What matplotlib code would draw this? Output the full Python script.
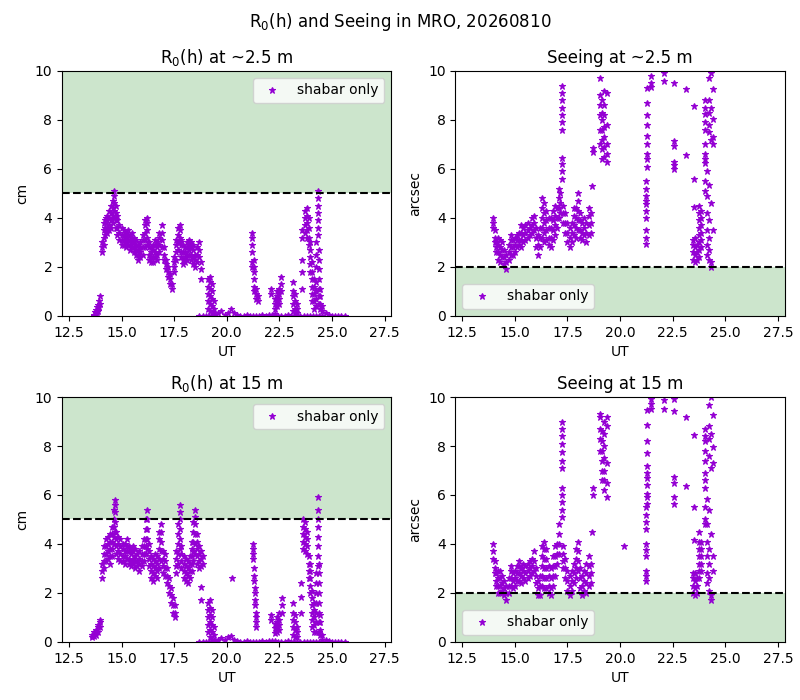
import matplotlib
matplotlib.use("Agg")
import matplotlib.pyplot as plt

# ---------------- data ----------------
# R0 at ~2.5 m (cm): times (UT hours) and the values seen at each time
r0a_t = [13.70, 13.75, 13.80, 13.85, 13.90, 13.95, 14.00, 14.08, 14.15, 14.20,
         14.25, 14.30, 14.40, 14.50, 14.58, 14.65, 14.72, 14.80, 14.90, 15.00,
         15.10, 15.20, 15.30, 15.40, 15.50, 15.60, 15.70, 15.80, 15.90, 16.00,
         16.10, 16.20, 16.30, 16.40, 16.50, 16.60, 16.70, 16.80, 16.90, 17.00,
         17.10, 17.20, 17.30, 17.40, 17.50, 17.60, 17.70, 17.78, 17.85, 17.90,
         18.00, 18.10, 18.20, 18.30, 18.40, 18.50, 18.60, 18.70, 18.80, 19.10,
         19.20, 19.30, 19.40, 21.20, 21.30, 21.40, 21.50, 22.10, 22.30, 22.40,
         22.50, 22.60, 23.15, 23.25, 23.35, 23.60, 23.70, 23.80, 23.90, 23.95,
         24.05, 24.15, 24.25, 24.32, 24.38, 24.45, 24.55]
r0a_v = [[0.0, 0.05], [0.05, 0.15], [0.1, 0.25], [0.15, 0.35], [0.2, 0.45],
         [0.35, 0.6], [0.5, 0.8], [2.6, 2.8, 3.0], [2.9, 3.2, 3.5, 3.8], [3.3, 3.6, 3.9],
         [3.5, 3.8, 4.0], [3.4, 3.6, 3.9, 4.1], [3.5, 3.7, 4.0, 4.3], [3.6, 3.9, 4.2, 4.5], [3.8, 4.1, 4.4, 4.7],
         [4.0, 4.3, 4.6, 4.9, 5.1], [3.6, 3.9, 4.2, 4.5], [3.3, 3.6, 3.9, 4.1], [3.1, 3.4, 3.7], [2.9, 3.1, 3.3, 3.6],
         [2.9, 3.1, 3.3, 3.5], [2.8, 3.0, 3.2, 3.4], [2.9, 3.1, 3.3, 3.5], [2.7, 2.9, 3.1, 3.3], [2.8, 3.0, 3.2, 3.4],
         [2.6, 2.8, 3.0, 3.2], [2.5, 2.7, 2.9, 3.1], [2.3, 2.5, 2.7, 2.9], [2.4, 2.6, 2.8, 3.0], [2.5, 2.8, 3.1, 3.3],
         [2.8, 3.1, 3.4, 3.7, 3.9], [2.9, 3.2, 3.5, 3.8, 4.0], [2.3, 2.5, 2.8, 3.0], [2.2, 2.4, 2.6, 2.8], [2.2, 2.4, 2.7, 2.9],
         [2.4, 2.6, 2.9, 3.1], [2.3, 2.5, 2.8, 3.0], [2.6, 2.9, 3.2, 3.4], [2.8, 3.1, 3.4, 3.7], [2.3, 2.5, 2.8],
         [1.9, 2.1, 2.3], [1.6, 1.8, 2.0], [1.3, 1.5, 1.7], [1.1, 1.3], [1.8, 2.0, 2.2, 2.4],
         [2.3, 2.6, 2.9, 3.1], [2.7, 3.0, 3.3, 3.6], [3.0, 3.2, 3.5, 3.7], [2.4, 2.6, 2.9, 3.1], [2.1, 2.3, 2.6, 2.9],
         [2.2, 2.4, 2.6, 2.8], [2.3, 2.5, 2.8, 3.0], [2.5, 2.7, 2.9, 3.1], [2.3, 2.5, 2.8, 3.0], [2.1, 2.4, 2.7, 2.9],
         [2.0, 2.3, 2.5], [2.2, 2.5, 2.8], [2.4, 2.7, 3.0], [1.5, 1.9, 2.2], [0.3, 0.6, 0.9, 1.2, 1.5],
         [0.2, 0.5, 0.8, 1.1, 1.4, 1.6], [0.1, 0.4, 0.7, 1.0, 1.3], [0.1, 0.3, 0.6], [2.0, 2.2, 2.6, 2.9, 3.2, 3.4], [1.0, 1.2, 1.5, 1.8, 2.0, 2.3],
         [0.7, 0.9, 1.1], [0.6, 0.8], [0.9, 1.1], [0.3, 0.5, 0.7], [0.4, 0.6, 0.8, 1.0],
         [0.5, 0.7, 0.9, 1.1], [1.0, 1.3, 1.6], [0.2, 0.5, 0.8, 1.0, 1.4], [0.1, 0.3, 0.6, 0.9], [0.1, 0.3, 0.5],
         [1.1, 1.8, 2.3, 3.2, 3.5], [3.4, 3.7, 4.0, 4.3], [3.2, 3.5, 3.8, 4.1, 4.4], [2.9, 3.2, 3.6, 4.0], [1.8, 2.1, 2.4, 2.7, 3.0],
         [0.6, 0.9, 1.2, 1.5, 1.8, 2.2], [0.3, 0.6, 0.9, 1.2, 1.5], [0.4, 0.7, 1.0, 1.4, 2.0, 2.5, 3.0],
         [3.3, 3.6, 3.9, 4.2, 4.5, 4.8, 5.1], [0.5, 0.8, 1.1, 1.5, 1.9, 2.3, 2.7], [0.3, 0.5, 0.8, 1.1], [0.2, 0.4]]

# near-zero R0 baseline (both heights)
base_t = [18.70, 18.85, 19.00, 19.15, 19.30, 19.45, 19.60, 19.75, 19.90, 20.05,
          20.20, 20.35, 20.50, 20.65, 20.80, 20.95, 21.10, 21.25, 21.40, 21.55,
          21.70, 21.85, 22.00, 22.15, 22.30, 22.45, 22.60, 22.75, 22.90, 23.05,
          23.20, 23.35, 23.50, 23.65, 23.80, 23.95, 24.10, 24.25, 24.40, 24.55,
          24.70, 24.85, 25.00, 25.15, 25.30, 25.45, 25.60]
base_a = [0.0, 0.0, 0.0, 0.0, 0.0, 0.05, 0.1, 0.2, 0.05, 0.1,
          0.3, 0.1, 0.05, 0.0, 0.0, 0.02, 0.0, 0.0, 0.0, 0.0,
          0.03, 0.0, 0.05, 0.05, 0.08, 0.0, 0.0, 0.0, 0.05, 0.0,
          0.0, 0.0, 0.0, 0.0, 0.0, 0.0, 0.0, 0.0, 0.0, 0.0,
          0.1, 0.05, 0.0, 0.0, 0.0, 0.0, 0.0]
base_b = [0.0, 0.0, 0.0, 0.0, 0.0, 0.05, 0.1, 0.15, 0.1, 0.2,
          0.25, 0.1, 0.05, 0.0, 0.0, 0.02, 0.0, 0.0, 0.0, 0.0,
          0.03, 0.0, 0.05, 0.05, 0.05, 0.0, 0.0, 0.0, 0.05, 0.0,
          0.0, 0.0, 0.0, 0.0, 0.0, 0.0, 0.0, 0.0, 0.0, 0.0,
          0.1, 0.05, 0.0, 0.0, 0.0, 0.0, 0.0]

# R0 at 15 m (cm)
r0b_t = [13.60, 13.70, 13.80, 13.90, 14.00, 14.08, 14.15, 14.25, 14.35, 14.45,
         14.55, 14.62, 14.67, 14.75, 14.85, 14.95, 15.05, 15.15, 15.25, 15.35,
         15.45, 15.55, 15.65, 15.75, 15.85, 15.95, 16.05, 16.15, 16.22, 16.30,
         16.40, 16.50, 16.60, 16.70, 16.80, 16.88, 16.95, 17.05, 17.15, 17.25,
         17.35, 17.45, 17.52, 17.60, 17.68, 17.76, 17.85, 17.95, 18.05, 18.15,
         18.25, 18.35, 18.42, 18.50, 18.58, 18.68, 18.78, 18.88, 19.10, 19.20,
         19.30, 19.40, 20.24, 21.23, 21.28, 21.33, 21.40, 22.12, 22.30, 22.40,
         22.50, 22.62, 23.15, 23.25, 23.35, 23.55, 23.62, 23.72, 23.82, 23.90,
         23.98, 24.05, 24.15, 24.25, 24.32, 24.38, 24.45, 24.55]
r0b_v = [[0.2, 0.3], [0.25, 0.4], [0.3, 0.5], [0.4, 0.6, 0.7], [0.6, 0.8, 0.9],
         [2.6, 2.9, 3.2], [3.0, 3.3, 3.6, 3.9], [3.3, 3.6, 3.9, 4.2], [3.4, 3.7, 4.0, 4.3], [3.2, 3.5, 3.8, 4.1, 4.4],
         [3.5, 3.8, 4.1, 4.4, 4.7], [4.0, 4.3, 4.7, 5.0, 5.4], [4.5, 4.9, 5.3, 5.6, 5.8], [3.6, 3.9, 4.2, 4.5], [3.4, 3.7, 4.0, 4.3],
         [3.3, 3.6, 3.9, 4.2], [3.3, 3.5, 3.8, 4.0], [3.2, 3.5, 3.7, 4.0], [3.4, 3.7, 3.9, 4.2], [3.2, 3.4, 3.7, 3.9],
         [3.1, 3.3, 3.6, 3.8], [3.2, 3.4, 3.7, 3.9], [3.0, 3.3, 3.5, 3.8], [3.1, 3.3, 3.6], [2.9, 3.2, 3.4, 3.7],
         [3.1, 3.3, 3.6, 3.9], [3.3, 3.6, 3.9, 4.2], [3.6, 3.9, 4.2, 4.6, 5.0], [3.8, 4.2, 4.6, 5.0, 5.4], [3.1, 3.4, 3.7, 4.0],
         [2.6, 2.9, 3.2, 3.5], [2.5, 2.8, 3.1, 3.4], [2.7, 3.0, 3.3, 3.6], [2.6, 2.9, 3.2, 3.5], [3.0, 3.4, 3.8, 4.2, 4.5],
         [3.3, 3.7, 4.1, 4.5, 4.8], [2.8, 3.1, 3.4, 3.7], [2.7, 3.0, 3.3, 3.6], [2.4, 2.7, 3.0], [2.0, 2.3, 2.6],
         [1.6, 1.9, 2.2], [1.2, 1.5, 1.8], [1.0, 1.2, 1.5], [2.8, 3.1, 3.4, 3.7], [3.2, 3.6, 4.0, 4.4, 4.8],
         [3.8, 4.2, 4.6, 5.0, 5.3, 5.6], [3.0, 3.3, 3.6, 3.9], [2.6, 2.9, 3.2, 3.5], [2.5, 2.8, 3.1, 3.4], [2.4, 2.7, 3.0, 3.3],
         [2.6, 2.9, 3.2, 3.5], [2.9, 3.2, 3.5, 3.8, 4.1], [3.3, 3.7, 4.1, 4.5, 4.9], [3.6, 4.0, 4.4, 4.8, 5.1, 5.4], [3.2, 3.5, 3.8, 4.1, 4.4],
         [3.0, 3.3, 3.6, 3.9], [3.1, 3.4, 3.7, 2.25, 1.7], [3.2, 3.5], [0.4, 0.7, 1.0, 1.3, 1.6], [0.2, 0.5, 0.8, 1.1, 1.4, 1.7],
         [0.1, 0.4, 0.7, 1.0, 1.3], [0.1, 0.3, 0.6], [2.6], [3.4, 3.6, 3.8, 4.0], [2.5, 2.7, 3.0],
         [1.5, 1.7, 2.0, 2.2], [0.6, 0.8, 1.0, 1.2], [0.9, 1.1], [0.35, 0.55, 0.75], [0.4, 0.6, 0.8, 1.0],
         [0.5, 0.7, 0.9, 1.2], [1.2, 1.5, 1.8], [0.3, 0.6, 0.9, 1.2, 1.6], [0.2, 0.5, 0.8, 1.1], [0.2, 0.4, 0.6],
         [1.2, 1.85, 2.4], [3.8, 4.1, 4.4, 4.7, 5.0], [3.7, 4.0, 4.3, 4.6, 4.9], [3.6, 3.9, 4.2, 4.5], [2.6, 2.9, 3.2, 3.5],
         [2.0, 2.3, 2.6, 2.9, 3.2], [0.6, 0.9, 1.2, 1.5, 1.8, 2.1], [0.4, 0.7, 1.0, 1.3, 1.6], [0.4, 0.8, 1.2, 1.6, 2.0, 2.4, 2.8],
         [3.1, 3.5, 3.9, 4.3, 4.7, 5.0, 5.4, 5.9], [0.4, 0.8, 1.2, 1.6, 2.0, 2.4, 2.8, 3.2], [0.3, 0.5, 0.8, 1.1], [0.1, 0.3]]

# Seeing at ~2.5 m (arcsec)
sa_t = [13.98, 14.05, 14.10, 14.20, 14.30, 14.40, 14.50, 14.60, 14.70, 14.80,
        14.90, 15.00, 15.10, 15.20, 15.30, 15.40, 15.50, 15.60, 15.70, 15.80,
        15.90, 16.00, 16.10, 16.20, 16.30, 16.40, 16.50, 16.60, 16.70, 16.80,
        16.90, 17.00, 17.10, 17.15, 17.25, 17.30, 17.40, 17.50, 17.60, 17.70,
        17.80, 17.90, 18.00, 18.10, 18.20, 18.30, 18.40, 18.50, 18.60, 18.65,
        18.70, 19.05, 19.15, 19.25, 19.40, 21.22, 21.30, 21.45, 22.09, 22.56,
        23.12, 23.51, 23.45, 23.55, 23.65, 23.75, 23.85, 24.02, 24.15, 24.25,
        24.30, 24.40]
sa_v = [[3.6, 3.8, 4.0], [3.0, 3.2, 3.5], [2.6, 2.8, 3.0], [2.3, 2.6, 2.9, 3.2], [2.2, 2.5, 2.8, 3.1],
        [2.4, 2.7, 3.0], [2.1, 2.4, 2.7], [1.9, 2.2, 2.5], [2.3, 2.6, 2.9], [2.5, 2.8, 3.1, 3.3],
        [2.5, 2.8, 3.1], [2.6, 2.9, 3.2], [2.8, 3.1, 3.3], [2.9, 3.1, 3.4], [2.8, 3.1, 3.4, 3.7],
        [3.0, 3.3, 3.6], [3.1, 3.4, 3.7], [3.2, 3.5, 3.8], [3.3, 3.6], [3.4, 3.7, 4.0],
        [3.5, 3.8, 4.1], [2.8, 3.2, 3.6], [2.5, 2.9, 3.3], [2.8, 3.2, 3.6], [3.2, 3.6, 4.0, 4.4, 4.8],
        [3.0, 3.4, 3.8, 4.2, 4.6], [3.1, 3.5, 3.9, 4.3], [2.9, 3.2, 3.6, 4.0], [2.8, 3.2, 3.6, 4.0], [3.1, 3.5, 3.9, 4.3],
        [3.3, 3.7, 4.1, 4.5], [3.6, 4.0, 4.4], [4.0, 4.4, 4.8, 5.2], [4.2, 4.6, 5.0],
        [5.6, 5.9, 6.2, 6.45, 7.6, 7.9, 8.2, 8.5, 8.8, 9.1, 9.4], [3.8, 4.2, 4.5], [3.4, 3.8, 4.2], [3.0, 3.4, 3.8], [2.8, 3.2, 3.6], [3.0, 3.4, 3.8],
        [3.3, 3.7, 4.1, 4.4], [3.2, 3.6, 4.0, 4.4], [3.5, 3.9, 4.3, 4.7, 5.0], [3.2, 3.5, 3.9, 4.2], [3.1, 3.4, 3.8],
        [3.3, 3.6, 4.0], [3.0, 3.4, 3.8], [3.3, 3.7, 4.1, 4.4], [3.4, 3.8, 4.2], [5.3],
        [6.7, 6.85], [7.0, 7.6, 8.2, 8.6, 9.0, 9.7], [6.4, 6.8, 7.2, 7.6, 8.0, 8.3, 8.8], [6.5, 6.9, 7.3, 7.7, 8.2, 8.6, 9.2], [6.3, 6.6, 7.0, 7.8, 9.1],
        [2.95, 3.2, 3.5, 4.0, 4.3, 4.55, 4.7, 4.9, 5.2, 5.5], [6.1, 6.4, 6.6, 7.0, 7.35, 7.8, 8.2, 8.7, 9.3],
        [9.35, 9.5, 9.8], [9.6, 9.93], [9.5, 7.15, 6.95, 6.3, 6.15, 6.0],
        [9.25, 6.55], [8.55, 5.6, 4.45], [2.3, 2.6, 2.9, 3.1], [2.2, 2.5, 2.8, 3.2], [2.3, 2.6, 2.9],
        [2.4, 2.7, 3.0, 3.3, 3.6, 3.9, 4.2, 4.5], [2.8, 3.1, 3.4, 3.7, 4.0, 4.3],
        [8.8, 8.5, 8.25, 7.9, 7.6, 7.0, 6.6, 6.4, 6.25, 5.5, 5.1],
        [5.9, 4.9, 4.2, 3.5, 2.9, 2.5], [9.7, 8.8, 8.3, 7.8, 7.5, 5.35, 3.9, 3.2, 2.7, 2.3],
        [9.9, 8.5, 7.2, 4.6, 2.0, 2.2], [9.25, 8.05, 7.3, 7.0, 3.5]]

# Seeing at 15 m (arcsec)
sb_t = [13.98, 14.05, 14.10, 14.20, 14.30, 14.40, 14.50, 14.60, 14.70, 14.80,
        14.90, 15.00, 15.10, 15.20, 15.30, 15.40, 15.50, 15.60, 15.70, 15.80,
        15.90, 16.00, 16.10, 16.20, 16.30, 16.40, 16.50, 16.60, 16.70, 16.80,
        16.90, 17.00, 17.10, 17.25, 17.30, 17.40, 17.50, 17.60, 17.70, 17.80,
        17.90, 18.00, 18.10, 18.20, 18.30, 18.40, 18.50, 18.60, 18.65, 18.70,
        19.05, 19.15, 19.25, 19.40, 20.20, 21.22, 21.30, 21.45, 22.09, 22.56,
        23.12, 23.51, 23.45, 23.55, 23.65, 23.75, 23.85, 24.02, 24.15, 24.25,
        24.30, 24.40]
sb_v = [[3.4, 3.7, 4.0], [2.8, 3.0, 3.3], [2.3, 2.5, 2.8], [2.0, 2.3, 2.6, 2.9], [2.0, 2.3, 2.6, 2.9],
        [2.1, 2.4, 2.7], [1.9, 2.2, 2.5], [1.7, 2.0, 2.3], [2.0, 2.3, 2.6], [2.3, 2.6, 2.9, 3.1],
        [2.2, 2.5, 2.8], [2.3, 2.6, 2.9], [2.5, 2.8, 3.1], [2.5, 2.8, 3.1, 3.3], [2.4, 2.7, 3.0],
        [2.6, 2.9, 3.2], [2.5, 2.8, 3.1], [2.6, 2.9, 3.2], [2.7, 3.0, 3.3], [2.8, 3.1, 3.4],
        [2.9, 3.3, 3.7], [2.4, 2.7, 3.0], [1.9, 2.2, 2.5], [1.9, 2.3, 2.7], [2.3, 2.7, 3.1, 3.5, 3.9],
        [2.2, 2.6, 3.0, 3.4, 3.8, 4.1], [2.2, 2.6, 3.0, 3.4, 3.8], [2.0, 2.3, 2.7, 3.1], [1.9, 2.2, 2.6, 3.0], [2.3, 2.7, 3.1, 3.5],
        [2.7, 3.1, 3.5, 3.9], [3.2, 3.6, 4.0], [3.6, 4.0, 4.4, 4.8],
        [5.1, 5.4, 5.7, 6.0, 6.3, 7.1, 7.4, 7.75, 8.1, 8.4, 8.7, 9.0], [3.0, 3.3, 3.6, 3.9],
        [2.6, 3.0, 3.4], [2.1, 2.5, 2.9], [1.9, 2.3, 2.7], [2.1, 2.5, 2.9], [2.4, 2.8, 3.2],
        [2.6, 3.0, 3.4, 3.8], [2.9, 3.3, 3.7, 4.1], [2.2, 2.6, 3.0], [1.9, 2.3, 2.7], [2.1, 2.5, 2.9],
        [2.0, 2.4, 2.8, 3.2], [2.3, 2.7, 3.1, 3.5], [2.4, 2.8, 3.2], [4.5], [6.0, 6.3],
        [7.8, 8.3, 8.7, 9.2, 9.3], [6.6, 7.0, 7.4, 7.8, 8.2, 8.6], [6.2, 6.6, 7.0, 7.5, 8.0, 8.5, 9.0], [5.9, 6.5, 7.3, 8.8, 9.2], [3.9],
        [2.5, 2.7, 2.9, 3.5, 3.75, 4.0, 4.6, 4.9, 5.2, 5.5], [5.65, 5.9, 6.05, 6.4, 6.7, 6.9, 7.2, 7.7, 8.2, 8.85, 9.45],
        [9.5, 9.7, 9.9], [9.5, 9.86], [9.93, 9.43, 6.73, 6.5, 5.9, 5.65],
        [9.2, 6.35], [8.43, 5.5, 4.18], [2.0, 2.3, 2.6, 2.8], [1.9, 2.2, 2.5, 2.8], [2.0, 2.3, 2.6],
        [2.6, 2.9, 3.2, 3.5, 3.8, 4.1, 4.5], [2.9, 3.2, 3.5, 3.8, 4.1],
        [8.7, 8.4, 8.2, 7.8, 7.4, 6.9, 6.6, 6.3, 5.5, 5.0, 4.8],
        [5.85, 4.8, 4.1, 3.5, 2.8, 2.4], [9.66, 8.8, 8.3, 7.6, 5.4, 3.8, 3.2, 2.6, 2.1],
        [10.0, 8.5, 7.1, 4.4, 1.7, 1.9], [9.25, 7.96, 7.3, 2.9, 3.5]]

titles = ["R$_0$(h) at ~2.5 m", "Seeing at ~2.5 m", "R$_0$(h) at 15 m", "Seeing at 15 m"]
suptitle = "R$_0$(h) and Seeing in MRO, 20260810"
label = "shabar only"


def flat(T, V):
    xs, ys = [], []
    for t, vs in zip(T, V):
        for v in vs:
            xs.append(t)
            ys.append(v)
    return xs, ys


fig, axes = plt.subplots(2, 2, figsize=(8, 7), dpi=100)
fig.subplots_adjust(left=0.0775, right=0.981, top=0.8986, bottom=0.0829,
                    wspace=0.194, hspace=0.331)
fig.suptitle(suptitle, fontsize=12, y=0.984)

panels = [
    (axes[0, 0], flat(r0a_t + base_t, r0a_v + [[b] for b in base_a]), "cm", 5, (5, 10), "upper right"),
    (axes[0, 1], flat(sa_t, sa_v), "arcsec", 2, (0, 2), "lower left"),
    (axes[1, 0], flat(r0b_t + base_t, r0b_v + [[b] for b in base_b]), "cm", 5, (5, 10), "upper right"),
    (axes[1, 1], flat(sb_t, sb_v), "arcsec", 2, (0, 2), "lower left"),
]

color = "darkviolet"
for ax, (xs, ys), ylab, thr, span, loc in panels:
    ax.axhspan(span[0], span[1], color="green", alpha=0.2, lw=0)
    ax.plot(xs, ys, "*", color=color, markersize=5, markeredgewidth=0.8, label=label)
    ax.axhline(thr, color="k", ls="--", lw=1.5)
    ax.set_xlim(12.17, 27.83)
    ax.set_ylim(0, 10)
    ax.set_xticks([12.5, 15.0, 17.5, 20.0, 22.5, 25.0, 27.5])
    ax.set_ylabel(ylab)
    ax.set_xlabel("UT")
    ax.legend(loc=loc)

for ax, t in zip(axes.flat, titles):
    ax.set_title(t)

fig.savefig("out.png", dpi=100)
